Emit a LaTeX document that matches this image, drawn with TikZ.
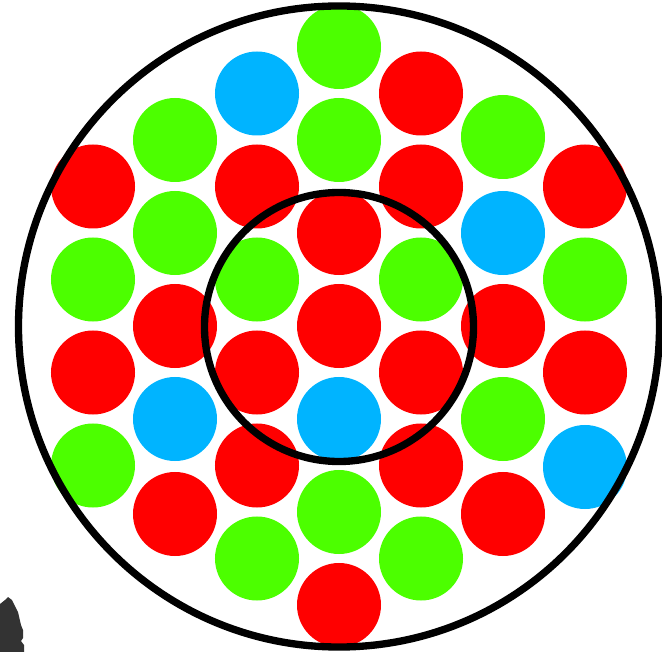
\documentclass[tikz,border=0pt]{standalone}
\usepackage{tikz}

\definecolor{ballred}{HTML}{FF0000}
\definecolor{ballgreen}{HTML}{4CFF00}
\definecolor{ballblue}{HTML}{00B4FF}
\definecolor{darkgray}{HTML}{333333}

\begin{document}
\begin{tikzpicture}[
    x=0.03cm, y=-0.03cm,
    ball/.style={
        circle,
        inner sep=0pt,
        outer sep=0pt,
        minimum size=2.52cm
    },
    red/.style={ball, fill=ballred},
    green/.style={ball, fill=ballgreen},
    blue/.style={ball, fill=ballblue},
    ring/.style={
        draw,
        circle,
        line width=0.22cm,
        inner sep=0pt,
        outer sep=0pt
    }
]

\useasboundingbox (0,0) rectangle (662,652);

% column 1
\node[red]   (a1) at (93,186.5) {};
\node[green] (a2) at (93,279.5) {};
\node[red]   (a3) at (93,372.5) {};
\node[green] (a4) at (93,465.5) {};

% column 2
\node[green] (b1) at (175,140) {};
\node[green] (b2) at (175,233) {};
\node[red]   (b3) at (175,326) {};
\node[blue]  (b4) at (175,419) {};
\node[red]   (b5) at (175,514) {};

% column 3
\node[blue]  (c1) at (257,93.5) {};
\node[red]   (c2) at (257,186.5) {};
\node[green] (c3) at (257,279.5) {};
\node[red]   (c4) at (257,372.5) {};
\node[red]   (c5) at (257,465.5) {};
\node[green] (c6) at (257,558.5) {};

% column 4
\node[green] (d1) at (339,47) {};
\node[green] (d2) at (339,140) {};
\node[red]   (d3) at (339,233) {};
\node[red]   (d4) at (339,326) {};
\node[blue]  (d5) at (339,419) {};
\node[green] (d6) at (339,512) {};
\node[red]   (d7) at (339,605) {};

% column 5
\node[red]   (e1) at (421,93.5) {};
\node[red]   (e2) at (421,186.5) {};
\node[green] (e3) at (421,279.5) {};
\node[red]   (e4) at (421,372.5) {};
\node[red]   (e5) at (421,465.5) {};
\node[green] (e6) at (421,558.5) {};

% column 6
\node[green] (f1) at (503,137) {};
\node[blue]  (f2) at (503,233) {};
\node[red]   (f3) at (503,326) {};
\node[green] (f4) at (503,419) {};
\node[red]   (f5) at (503,514) {};

% column 7
\node[red]   (g1) at (585,186.5) {};
\node[green] (g2) at (585,279.5) {};
\node[red]   (g3) at (585,372.5) {};
\node[blue]  (g4) at (585,467) {};

% rings
\node[ring, minimum size=19.23cm] (outer) at (339,326.5) {};
\node[ring, minimum size=8.07cm] (inner) at (339,327) {};

% stray mark bottom left
\fill[darkgray] (0,604) -- (5,600) -- (8,597) -- (12,600) -- (18,612)
    -- (21,625) -- (23,630) -- (23,638) -- (21,641) -- (24,645)
    -- (24,652) -- (0,652) -- cycle;

\end{tikzpicture}
\end{document}
